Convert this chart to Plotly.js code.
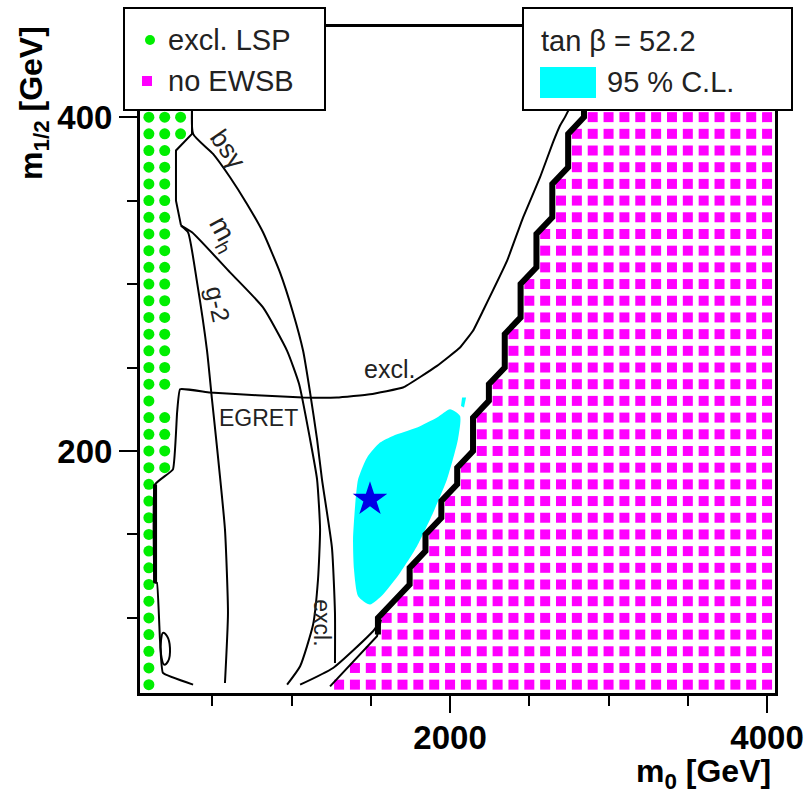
<!DOCTYPE html>
<html><head><meta charset="utf-8">
<script src="https://cdn.plot.ly/plotly-3.0.1.min.js"></script>
<style>html,body{margin:0;padding:0;background:#fff}#plot{width:808px;height:793px}</style>
</head><body><div id="plot"></div>
<script>
// ---- data ----
// no-EWSB region: for each m12 row, first m0 column that has no EWSB (grid up to 4000)
const ewsbRows  = [60,70,80,90,100,110,120,130,140,150,160,170,180,190,200,210,220,230,240,250,
                   260,270,280,290,300,310,320,330,340,350,360,370,380,390,400,410,420,430,440,450];
const ewsbStart = [1300,1400,1500,1600,1600,1700,1800,1800,1900,1900,2000,2000,2100,2100,2200,2200,2200,2300,2300,2400,
                   2400,2400,2500,2500,2500,2600,2600,2600,2700,2700,2700,2800,2800,2800,2900,2900,2900,3000,3000,3000];
const ewsbMaxM0 = 4000;
// excluded-LSP dots: column m0 with m12 from/to
const lspCol  = [100, 200, 200, 300];
const lspFrom = [60, 190, 240, 390];
const lspTo   = [450, 220, 450, 450];
const gridStepM0 = 100, gridStepM12 = 10;

// 95% C.L. region
const clM0  = [2000,2063,2050,1981,1893,1792,1685,1577,1495,1420,1394,1388,1401,1420,1476,1558,1640,1792,1918,2000];
const clM12 = [225,221,207,183,163,143,127,114,108,113,129,147,167,183,196,205,209,214,220,225];
const clSliverM0  = [2076,2101,2088,2069,2076];
const clSliverM12 = [232,232,226,227,232];
// best fit point
const bestM0 = [1495], bestM12 = [171];

// contour lines
const lspEdgeM0 = [372,372,271,271,303];
const lspEdgeM12 = [420,390,380,350,335];
const mhM0  = [303,372,612,820,972,1048,1117,1161,1180,1167,1136,1054,972];
const mhM12 = [335,331,307,286,260,240,207,183,153,123,96,71,60];
const bsgM0  = [379,379,505,612,719,820,927,1009,1073,1117,1161,1192,1255,1274,1274];
const bsgM12 = [420,390,378,364,348,331,307,283,260,235,207,183,142,103,73];
const g2M0  = [303,347,404,467,498,530,580,599,580];
const g2M12 = [335,331,301,260,231,202,153,103,61];
const egretM0  = [379,189,170,151,139,139,252,278,297,486,1073,1287,1495,1703,1918,2063,2145,2208,2360,2461,2568,2650,2694,2725,2757];
const egretM12 = [60,67,87,121,121,180,189,223,237,235,232,232,234,238,251,262,272,284,314,340,364,385,395,400,406];
const egretThickM0 = [139,139], egretThickM12 = [121,180];
const loopM0  = [177,189,215,233,221,196,177,177];
const loopM12 = [87,91,89,82,74,72,78,87];
const lowAM0 = [1054,1262,1514,1558], lowAM12 = [60,70,92,98];
const lowBM0 = [1243,1539,1565],      lowBM12 = [59,89,99];

// curve labels
const labText  = ['bs\u03b3','m<sub>h</sub>','g-2','excl.','EGRET','excl.'];
const labM0    = [600, 565, 536, 1621, 789, 1190];
const labM12   = [381, 330, 288, 249, 220, 97];
const labAngle = [55, 62, 78, 0, 0, 90];
const labSize  = [26, 28, 25, 25, 23, 23];

// ---- build marks ----
const magX=[], magY=[];
ewsbRows.forEach((r,i)=>{ for(let m=ewsbStart[i]; m<=ewsbMaxM0; m+=gridStepM0){ magX.push(m); magY.push(r);} });
const grnX=[], grnY=[];
lspCol.forEach((c,i)=>{ for(let r=lspFrom[i]; r<=lspTo[i]; r+=gridStepM12){ grnX.push(c); grnY.push(r);} });

// thick staircase boundary derived from ewsb table
const STAIR_OFF = 55, stairFrom = 90;
const stX=[], stY=[];
{
  let i = ewsbRows.length-1;
  while (i>=0 && ewsbRows[i]>=stairFrom){
    let j=i;
    while (j-1>=0 && ewsbStart[j-1]===ewsbStart[i] && ewsbRows[j-1]>=stairFrom) j--;
    stX.push(ewsbStart[i]-STAIR_OFF, ewsbStart[i]-STAIR_OFF);
    stY.push(ewsbRows[i], ewsbRows[j]);
    i=j-1;
  }
}

const thin = {color:'#000', width:2};
function line(x,y,opt){ return Object.assign({type:'scatter',mode:'lines',x:x,y:y,line:Object.assign({},thin),hoverinfo:'skip'},opt||{}); }

const traces = [
  {type:'scatter',mode:'markers',x:magX,y:magY,marker:{symbol:'square',size:10,color:'#ff00ff'},hoverinfo:'skip'},
  {type:'scatter',mode:'markers',x:grnX,y:grnY,marker:{symbol:'circle',size:11,color:'#00ee00'},hoverinfo:'skip'},
  {type:'scatter',mode:'lines',x:clM0,y:clM12,fill:'toself',fillcolor:'#00ffff',line:{width:0,color:'#00ffff',shape:'spline',smoothing:0.6},hoverinfo:'skip'},
  {type:'scatter',mode:'lines',x:clSliverM0,y:clSliverM12,fill:'toself',fillcolor:'#00ffff',line:{width:0,color:'#00ffff'},hoverinfo:'skip'},
  line(lspEdgeM0,lspEdgeM12),
  line(mhM0,mhM12,{line:{color:'#000',width:2,shape:'spline',smoothing:0.5}}),
  line(bsgM0,bsgM12,{line:{color:'#000',width:2,shape:'spline',smoothing:0.5}}),
  line(g2M0,g2M12,{line:{color:'#000',width:2,shape:'spline',smoothing:0.5}}),
  line(egretM0,egretM12,{line:{color:'#000',width:2,shape:'spline',smoothing:0.3}}),
  line(egretThickM0,egretThickM12,{line:{color:'#000',width:4}}),
  line(loopM0,loopM12,{line:{color:'#000',width:2,shape:'spline',smoothing:1}}),
  line(lowAM0,lowAM12,{line:{color:'#000',width:2,shape:'spline',smoothing:0.5}}),
  line(lowBM0,lowBM12,{line:{color:'#000',width:2}}),
  line(stX,stY,{line:{color:'#000',width:6}}),
  {type:'scatter',mode:'markers',x:bestM0,y:bestM12,marker:{symbol:'star',size:26,color:'#0000e6'},hoverinfo:'skip'}
];

const W=635, H=666, L=140, T=27;
const px = v => (v-L)/W, py = v => (T+H-v)/H;

const annotations = labText.map((t,i)=>({
  xref:'x',yref:'y',x:labM0[i],y:labM12[i],text:t,showarrow:false,textangle:labAngle[i],
  font:{family:'Liberation Sans, Arial, sans-serif',size:labSize[i],color:'#222'}
}));
const tfont = {family:'Liberation Sans, Arial, sans-serif',size:29,color:'#222'};
annotations.push(
  {xref:'paper',yref:'paper',x:px(166),y:py(40),xanchor:'left',yanchor:'middle',text:'excl. LSP',showarrow:false,font:tfont},
  {xref:'paper',yref:'paper',x:px(166),y:py(81),xanchor:'left',yanchor:'middle',text:'no EWSB',showarrow:false,font:tfont},
  {xref:'paper',yref:'paper',x:px(539),y:py(41),xanchor:'left',yanchor:'middle',text:'tan \u03b2 = 52.2',showarrow:false,font:tfont},
  {xref:'paper',yref:'paper',x:px(605),y:py(82),xanchor:'left',yanchor:'middle',text:'95 % C.L.',showarrow:false,font:tfont},
  {xref:'paper',yref:'paper',x:px(773),y:py(773),xanchor:'right',yanchor:'middle',text:'m<sub>0</sub> [GeV]',showarrow:false,
   font:{family:'Liberation Sans, Arial, sans-serif',size:32,color:'#000',weight:'bold'}},
  {xref:'paper',yref:'paper',x:px(33),y:py(24),xanchor:'center',yanchor:'top',textangle:-90,text:'m<sub>1/2</sub> [GeV]',showarrow:false,
   font:{family:'Liberation Sans, Arial, sans-serif',size:32,color:'#000',weight:'bold'}}
);

const shapes = [
  {type:'rect',xref:'paper',yref:'paper',x0:px(124),x1:px(325),y0:py(110),y1:py(8),fillcolor:'#fff',line:{color:'#000',width:2},layer:'above'},
  {type:'rect',xref:'paper',yref:'paper',x0:px(523),x1:px(792),y0:py(110),y1:py(8),fillcolor:'#fff',line:{color:'#000',width:2},layer:'above'},
  {type:'circle',xref:'paper',yref:'paper',x0:px(145),x1:px(155),y0:py(45),y1:py(35),fillcolor:'#00ee00',line:{width:0},layer:'above'},
  {type:'rect',xref:'paper',yref:'paper',x0:px(142),x1:px(152),y0:py(86),y1:py(76),fillcolor:'#ff00ff',line:{width:0},layer:'above'},
  {type:'rect',xref:'paper',yref:'paper',x0:px(540),x1:px(596),y0:py(98),y1:py(67),fillcolor:'#00ffff',line:{width:0},layer:'above'}
];

const tickfont = {family:'Liberation Sans, Arial, sans-serif',size:33,color:'#000',weight:'bold'};
const layout = {
  width:808,height:793,
  margin:{l:L,r:808-L-W,t:T,b:793-T-H,pad:0},
  paper_bgcolor:'#fff',plot_bgcolor:'#fff',showlegend:false,
  xaxis:{range:[44,4050],tick0:0,dtick:2000,ticks:'outside',ticklen:17,tickwidth:2,tickcolor:'#000',ticklabelstandoff:-4,
    minor:{tick0:0,dtick:500,ticks:'outside',ticklen:10,tickwidth:2,tickcolor:'#000',showgrid:false},
    showline:true,linewidth:3,linecolor:'#000',mirror:true,showgrid:false,zeroline:false,tickfont:tickfont},
  yaxis:{range:[55,454],tick0:0,dtick:200,ticks:'outside',ticklen:18,tickwidth:2,tickcolor:'#000',
    minor:{tick0:0,dtick:50,ticks:'outside',ticklen:10,tickwidth:2,tickcolor:'#000',showgrid:false},
    showline:true,linewidth:3,linecolor:'#000',mirror:true,showgrid:false,zeroline:false,tickfont:tickfont},
  annotations:annotations,
  shapes:shapes
};
Plotly.newPlot('plot',traces,layout,{displayModeBar:false,staticPlot:true});
</script></body></html>
